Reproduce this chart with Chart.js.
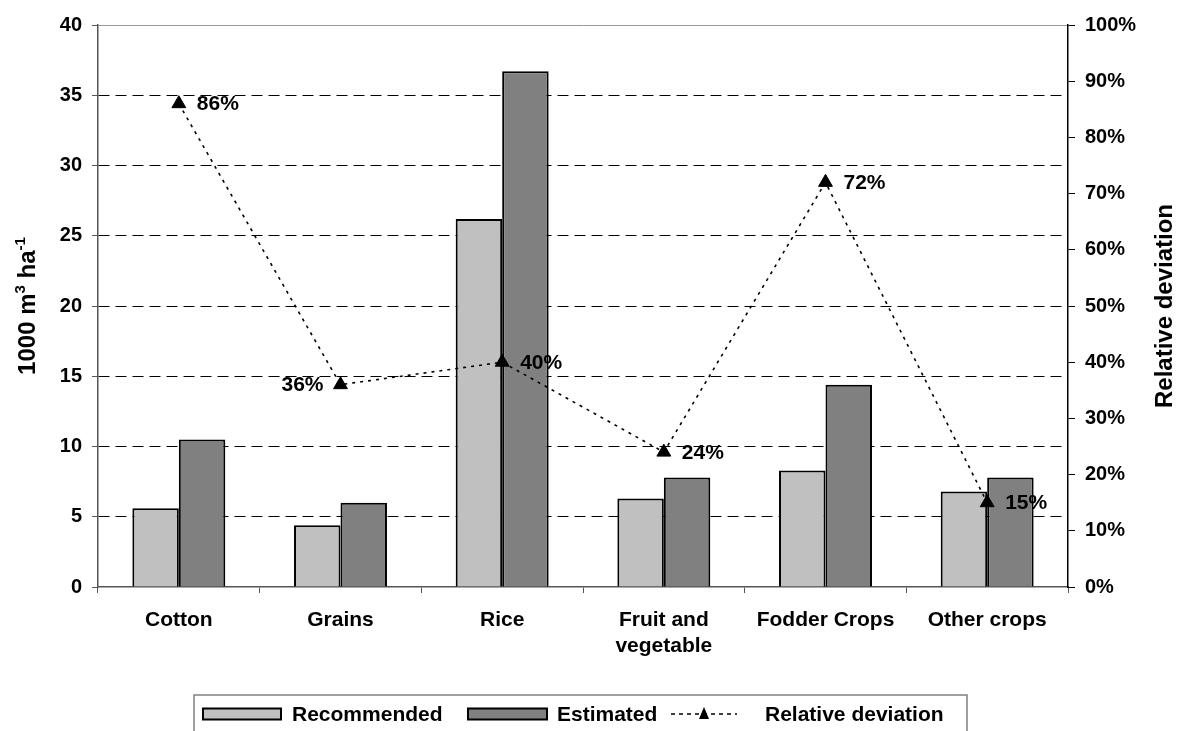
<!DOCTYPE html>
<html>
<head>
<meta charset="utf-8">
<script src="https://cdn.jsdelivr.net/npm/chart.js@4"></script>
<style>
  body { margin: 0; background: #fff; }
  canvas { display: block; }
</style>
</head>
<body>
<canvas id="myChart" width="1178" height="731"></canvas>
<script>
const categories = ['Cotton', 'Grains', 'Rice', ['Fruit and', 'vegetable'], 'Fodder Crops', 'Other crops'];
const recommended = [5.6, 4.4, 26.2, 6.3, 8.3, 6.8];
const estimated = [10.5, 6.0, 36.7, 7.8, 14.4, 7.8];
const deviation = [86, 36, 40, 24, 72, 15];
const leftTicks = { min: 0, max: 40, step: 5 };
const rightTicks = { min: 0, max: 100, step: 10 };

const FONT = 'Arial, "Liberation Sans", sans-serif';
Chart.defaults.font.family = FONT;
Chart.defaults.color = '#000';

// labels next to the triangles; the 36% one sits on the left
const labelPlugin = {
  id: 'devLabels',
  afterDatasetsDraw(chart) {
    const ctx = chart.ctx;
    const meta = chart.getDatasetMeta(2);
    ctx.save();
    ctx.font = 'bold 21px ' + FONT;
    ctx.fillStyle = '#000';
    ctx.textBaseline = 'middle';
    meta.data.forEach((pt, i) => {
      const txt = deviation[i] + '%';
      if (i == 1) {
        ctx.textAlign = 'right';
        ctx.fillText(txt, pt.x - 17, pt.y + 1);
      } else {
        ctx.textAlign = 'left';
        ctx.fillText(txt, pt.x + 18, pt.y + 1);
      }
    });
    ctx.restore();
  }
};

// axis titles (with superscripts) + boxed legend at the bottom
const extrasPlugin = {
  id: 'extras',
  afterDraw(chart) {
    const ctx = chart.ctx;
    const area = chart.chartArea;
    const cy = (area.top + area.bottom) / 2;

    // left title
    ctx.save();
    ctx.translate(35, cy);
    ctx.rotate(-Math.PI / 2);
    ctx.fillStyle = '#000';
    ctx.textBaseline = 'alphabetic';
    ctx.textAlign = 'left';
    const parts = [['1000 m', 24, 0], ['3', 15, -10], [' ha', 24, 0], ['-1', 15, -10]];
    let total = 0;
    parts.forEach(p => { ctx.font = 'bold ' + p[1] + 'px ' + FONT; total += ctx.measureText(p[0]).width; });
    let x = -total / 2;
    parts.forEach(p => {
      ctx.font = 'bold ' + p[1] + 'px ' + FONT;
      ctx.fillText(p[0], x, p[2]);
      x += ctx.measureText(p[0]).width;
    });
    ctx.restore();

    // right title
    ctx.save();
    ctx.translate(1172, cy);
    ctx.rotate(-Math.PI / 2);
    ctx.font = 'bold 24px ' + FONT;
    ctx.textAlign = 'center';
    ctx.textBaseline = 'alphabetic';
    ctx.fillText('Relative deviation', 0, 0);
    ctx.restore();

    // legend
    const ds = chart.data.datasets;
    ctx.save();
    ctx.strokeStyle = '#808080';
    ctx.lineWidth = 1.5;
    ctx.strokeRect(194, 695, 773, 60);
    const ly = 714;
    ctx.font = 'bold 21px ' + FONT;
    ctx.textBaseline = 'middle';
    ctx.textAlign = 'left';
    ctx.fillStyle = '#000';

    ctx.lineWidth = 2;
    ctx.fillStyle = ds[0].backgroundColor;
    ctx.fillRect(203, ly - 5.5, 78, 11);
    ctx.strokeStyle = '#000';
    ctx.strokeRect(203, ly - 5.5, 78, 11);
    ctx.fillStyle = '#000';
    ctx.fillText(ds[0].label, 292, ly + 1);

    ctx.fillStyle = ds[1].backgroundColor;
    ctx.fillRect(468, ly - 5.5, 79, 11);
    ctx.strokeRect(468, ly - 5.5, 79, 11);
    ctx.fillStyle = '#000';
    ctx.fillText(ds[1].label, 557, ly + 1);

    ctx.lineWidth = 1.5;
    ctx.setLineDash([4, 4]);
    ctx.beginPath();
    ctx.moveTo(671, ly);
    ctx.lineTo(737, ly);
    ctx.stroke();
    ctx.setLineDash([]);
    ctx.beginPath();
    ctx.moveTo(704, ly - 7);
    ctx.lineTo(709, ly + 5);
    ctx.lineTo(699, ly + 5);
    ctx.closePath();
    ctx.fill();
    ctx.fillText(ds[2].label, 765, ly + 1);
    ctx.restore();
  }
};

const ctx = document.getElementById('myChart');

new Chart(ctx, {
  type: 'bar',
  data: {
    labels: categories,
    datasets: [
      {
        label: 'Recommended',
        data: recommended,
        backgroundColor: '#C0C0C0',
        borderColor: '#000',
        borderWidth: 2,
        yAxisID: 'y',
        order: 2
      },
      {
        label: 'Estimated',
        data: estimated,
        backgroundColor: '#808080',
        borderColor: '#000',
        borderWidth: 2,
        yAxisID: 'y',
        order: 2
      },
      {
        type: 'line',
        label: 'Relative deviation',
        data: deviation,
        borderColor: '#000',
        borderWidth: 1.6,
        borderDash: [3, 5],
        pointStyle: 'triangle',
        pointRadius: 8,
        pointBackgroundColor: '#000',
        pointBorderColor: '#000',
        pointBorderWidth: 1,
        fill: false,
        tension: 0,
        yAxisID: 'y1',
        order: 0
      }
    ]
  },
  options: {
    responsive: false,
    animation: false,
    layout: { padding: { top: 25, left: 0, right: 0, bottom: 0 } },
    plugins: {
      legend: { display: false },
      tooltip: { enabled: false }
    },
    datasets: {
      bar: { categoryPercentage: 0.575, barPercentage: 1 }
    },
    scales: {
      x: {
        grid: { drawOnChartArea: false, drawTicks: true, tickLength: 6, color: '#555', tickColor: '#555' },
        border: { color: '#555', width: 1.5 },
        ticks: { font: { size: 21, weight: 'bold', lineHeight: 1.2 }, padding: 15, maxRotation: 0, autoSkip: false },
        afterFit(scale) { scale.height = 144; }
      },
      y: {
        position: 'left',
        min: leftTicks.min,
        max: leftTicks.max,
        ticks: { stepSize: leftTicks.step, font: { size: 20, weight: 'bold' }, padding: 10 },
        grid: {
          color: c => (c.tick && c.tick.value == 0) ? 'rgba(0,0,0,0)' : (c.tick && c.tick.value == 40 ? '#999' : '#000'),
          tickColor: '#555',
          tickLength: 6,
          lineWidth: 1
        },
        border: {
          color: '#555',
          width: 1.5,
          dash: c => (c.tick && c.tick.value == 40) ? [] : [11, 6]
        },
        afterFit(scale) { scale.width = 98; }
      },
      y1: {
        position: 'right',
        min: rightTicks.min,
        max: rightTicks.max,
        ticks: { stepSize: rightTicks.step, font: { size: 20, weight: 'bold' }, padding: 10, callback: v => v + '%' },
        grid: { drawOnChartArea: false, tickLength: 7, tickColor: '#000' },
        border: { color: '#000', width: 1.5 },
        afterFit(scale) { scale.width = 110; }
      }
    }
  },
  plugins: [labelPlugin, extrasPlugin]
});
</script>
</body>
</html>
